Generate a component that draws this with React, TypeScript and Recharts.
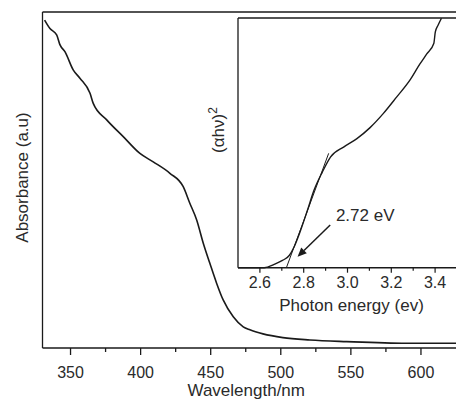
import React from 'react';
import { LineChart, Line, XAxis, YAxis, ReferenceLine, ReferenceDot, Label } from 'recharts';

// main spectrum: absorbance vs wavelength
const wavelength = [331.5, 335.3, 340.1, 342.5, 346, 352, 356.7, 363.9, 366.2, 375.8, 387.6, 399.5, 409, 420.9, 430.4, 435.1, 440, 444.7, 449.4, 454.2, 458.9, 466.1, 473.2, 478, 487.3, 501.5, 520.8, 547, 589.8, 625];
const absorbance = [0.976, 0.951, 0.932, 0.902, 0.882, 0.827, 0.803, 0.758, 0.728, 0.679, 0.629, 0.579, 0.554, 0.52, 0.48, 0.431, 0.381, 0.312, 0.252, 0.193, 0.143, 0.093, 0.063, 0.054, 0.042, 0.031, 0.024, 0.019, 0.014, 0.014];
const wavelengthTicks = [350, 375, 400, 425, 450, 475, 500, 525, 550, 575, 600];

// inset: Tauc plot
const photonEnergy = [2.5, 2.62, 2.665, 2.703, 2.734, 2.756, 2.786, 2.817, 2.847, 2.885, 2.923, 2.984, 3.043, 3.103, 3.164, 3.225, 3.285, 3.33, 3.362, 3.394, 3.401, 3.414, 3.429];
const tauc = [0, 0, 0.013, 0.029, 0.049, 0.083, 0.15, 0.23, 0.31, 0.383, 0.444, 0.484, 0.517, 0.561, 0.618, 0.684, 0.751, 0.815, 0.856, 0.898, 0.944, 0.972, 0.999];
const energyTicks = [2.6, 2.7, 2.8, 2.9, 3.0, 3.1, 3.2, 3.3, 3.4];

// linear fit extrapolated to the axis
const fitEnergy = [2.721, 2.914];
const fitValue = [0, 0.458];

const gapText = '2.72 eV';
const arrowTail = { e: 2.921, v: 0.171 };
const arrowTip = { e: 2.772, v: 0.044 };
const gapTextAt = { e: 2.947, v: 0.187 };

const mainData = wavelength.map((nm, i) => ({ nm, a: absorbance[i] }));
const taucData = photonEnergy.map((e, i) => ({ e, v: tauc[i] }));
const fitData = fitEnergy.map((e, i) => ({ e, v: fitValue[i] }));

const FONT = '"Liberation Sans", Arial, Helvetica, sans-serif';
const INK = '#1a1a1a';
const TEXT = '#2a2a2a';

const MainTick = (props: any) => {
  const { x, y, payload } = props;
  const major = payload.value % 50 === 0;
  return (
    <g>
      <line x1={x} y1={y} x2={x} y2={y + (major ? 7 : 4)} stroke={INK} strokeWidth={1.3} />
      {major && (
        <text x={x} y={y + 30} textAnchor="middle" fontSize={16} fontFamily={FONT} fill={TEXT}>
          {payload.value}
        </text>
      )}
    </g>
  );
};

const InsetTick = (props: any) => {
  const { x, y, payload } = props;
  const major = Math.round(payload.value * 10) % 2 === 0;
  return (
    <g>
      <line x1={x} y1={y} x2={x} y2={y + (major ? 5 : 3)} stroke={INK} strokeWidth={1.2} />
      {major && (
        <text x={x} y={y + 20.5} textAnchor="middle" fontSize={16} fontFamily={FONT} fill={TEXT}>
          {payload.value.toFixed(1)}
        </text>
      )}
    </g>
  );
};

const Arrow = (props: any) => {
  const { x1, y1, x2, y2 } = props;
  const ang = Math.atan2(y2 - y1, x2 - x1);
  const len = 9;
  const half = 4;
  const bx = x2 - len * Math.cos(ang);
  const by = y2 - len * Math.sin(ang);
  const px = -Math.sin(ang) * half;
  const py = Math.cos(ang) * half;
  return (
    <g>
      <line x1={x1} y1={y1} x2={bx} y2={by} stroke={INK} strokeWidth={1.5} />
      <polygon points={`${x2},${y2} ${bx + px},${by + py} ${bx - px},${by - py}`} fill={INK} />
    </g>
  );
};

export default function App() {
  return (
    <div style={{ position: 'absolute', left: 0, top: 0, width: 456, height: 403, overflow: 'hidden', background: '#fff' }}>
      <LineChart width={470} height={403} data={mainData} margin={{ top: 12, right: 14, bottom: 0, left: 0 }}>
        <XAxis
          dataKey="nm"
          type="number"
          domain={[330, 625]}
          ticks={wavelengthTicks}
          interval={0}
          height={55}
          tickSize={0}
          tickMargin={0}
          tick={<MainTick />}
          axisLine={{ stroke: INK, strokeWidth: 1.5 }}
        >
          <Label
            content={({ viewBox }: any) => (
              <text x={viewBox.x + viewBox.width / 2 - 3} y={viewBox.y + 48} textAnchor="middle" fontSize={17} fontFamily={FONT} fill={TEXT}>
                Wavelength/nm
              </text>
            )}
          />
        </XAxis>
        <YAxis type="number" domain={[0, 1]} width={42.5} tick={false} tickLine={false} axisLine={{ stroke: INK, strokeWidth: 1.3 }}>
          <Label
            content={() => (
              <text x={28} y={177.5} transform="rotate(-90 28 177.5)" textAnchor="middle" fontSize={17} fontFamily={FONT} fill={TEXT}>
                Absorbance (a.u)
              </text>
            )}
          />
        </YAxis>
        <ReferenceLine y={1} stroke={INK} strokeWidth={1.3} />
        <Line dataKey="a" type="monotone" dot={false} stroke={INK} strokeWidth={1.6} isAnimationActive={false} />
      </LineChart>

      <div style={{ position: 'absolute', left: 190, top: 0 }}>
        <LineChart width={280} height={320} data={taucData} margin={{ top: 18, right: 13, bottom: 0, left: 0 }}>
          <XAxis
            dataKey="e"
            type="number"
            domain={[2.5, 3.5]}
            ticks={energyTicks}
            interval={0}
            height={52.3}
            tickSize={0}
            tickMargin={0}
            tick={<InsetTick />}
            axisLine={{ stroke: INK, strokeWidth: 1.5 }}
          >
            <Label
              content={({ viewBox }: any) => (
                <text x={viewBox.x + viewBox.width / 2 + 4} y={viewBox.y + 43.3} textAnchor="middle" fontSize={17} fontFamily={FONT} fill={TEXT}>
                  Photon energy (ev)
                </text>
              )}
            />
          </XAxis>
          <YAxis type="number" domain={[0, 1]} width={48} tick={false} tickLine={false} axisLine={{ stroke: INK, strokeWidth: 1.3 }}>
            <Label
              content={() => (
                <text x={34} y={130} transform="rotate(-90 34 130)" textAnchor="middle" fontSize={17} fontFamily={FONT} fill={TEXT}>
                  (αhν)<tspan dy={-7} fontSize={12}>2</tspan>
                </text>
              )}
            />
          </YAxis>
          <ReferenceLine y={1} stroke={INK} strokeWidth={1.3} />
          <Line data={fitData} dataKey="v" type="linear" dot={false} stroke={INK} strokeWidth={1} isAnimationActive={false} />
          <Line dataKey="v" type="monotone" dot={false} stroke={INK} strokeWidth={1.4} isAnimationActive={false} />
          <ReferenceLine
            segment={[{ x: arrowTail.e, y: arrowTail.v }, { x: arrowTip.e, y: arrowTip.v }]}
            shape={(p: any) => <Arrow {...p} />}
          />
          <ReferenceDot
            x={gapTextAt.e}
            y={gapTextAt.v}
            shape={(p: any) => (
              <text x={p.cx} y={p.cy} fontSize={17} fontFamily={FONT} fill={TEXT}>
                {gapText}
              </text>
            )}
          />
        </LineChart>
      </div>
    </div>
  );
}
